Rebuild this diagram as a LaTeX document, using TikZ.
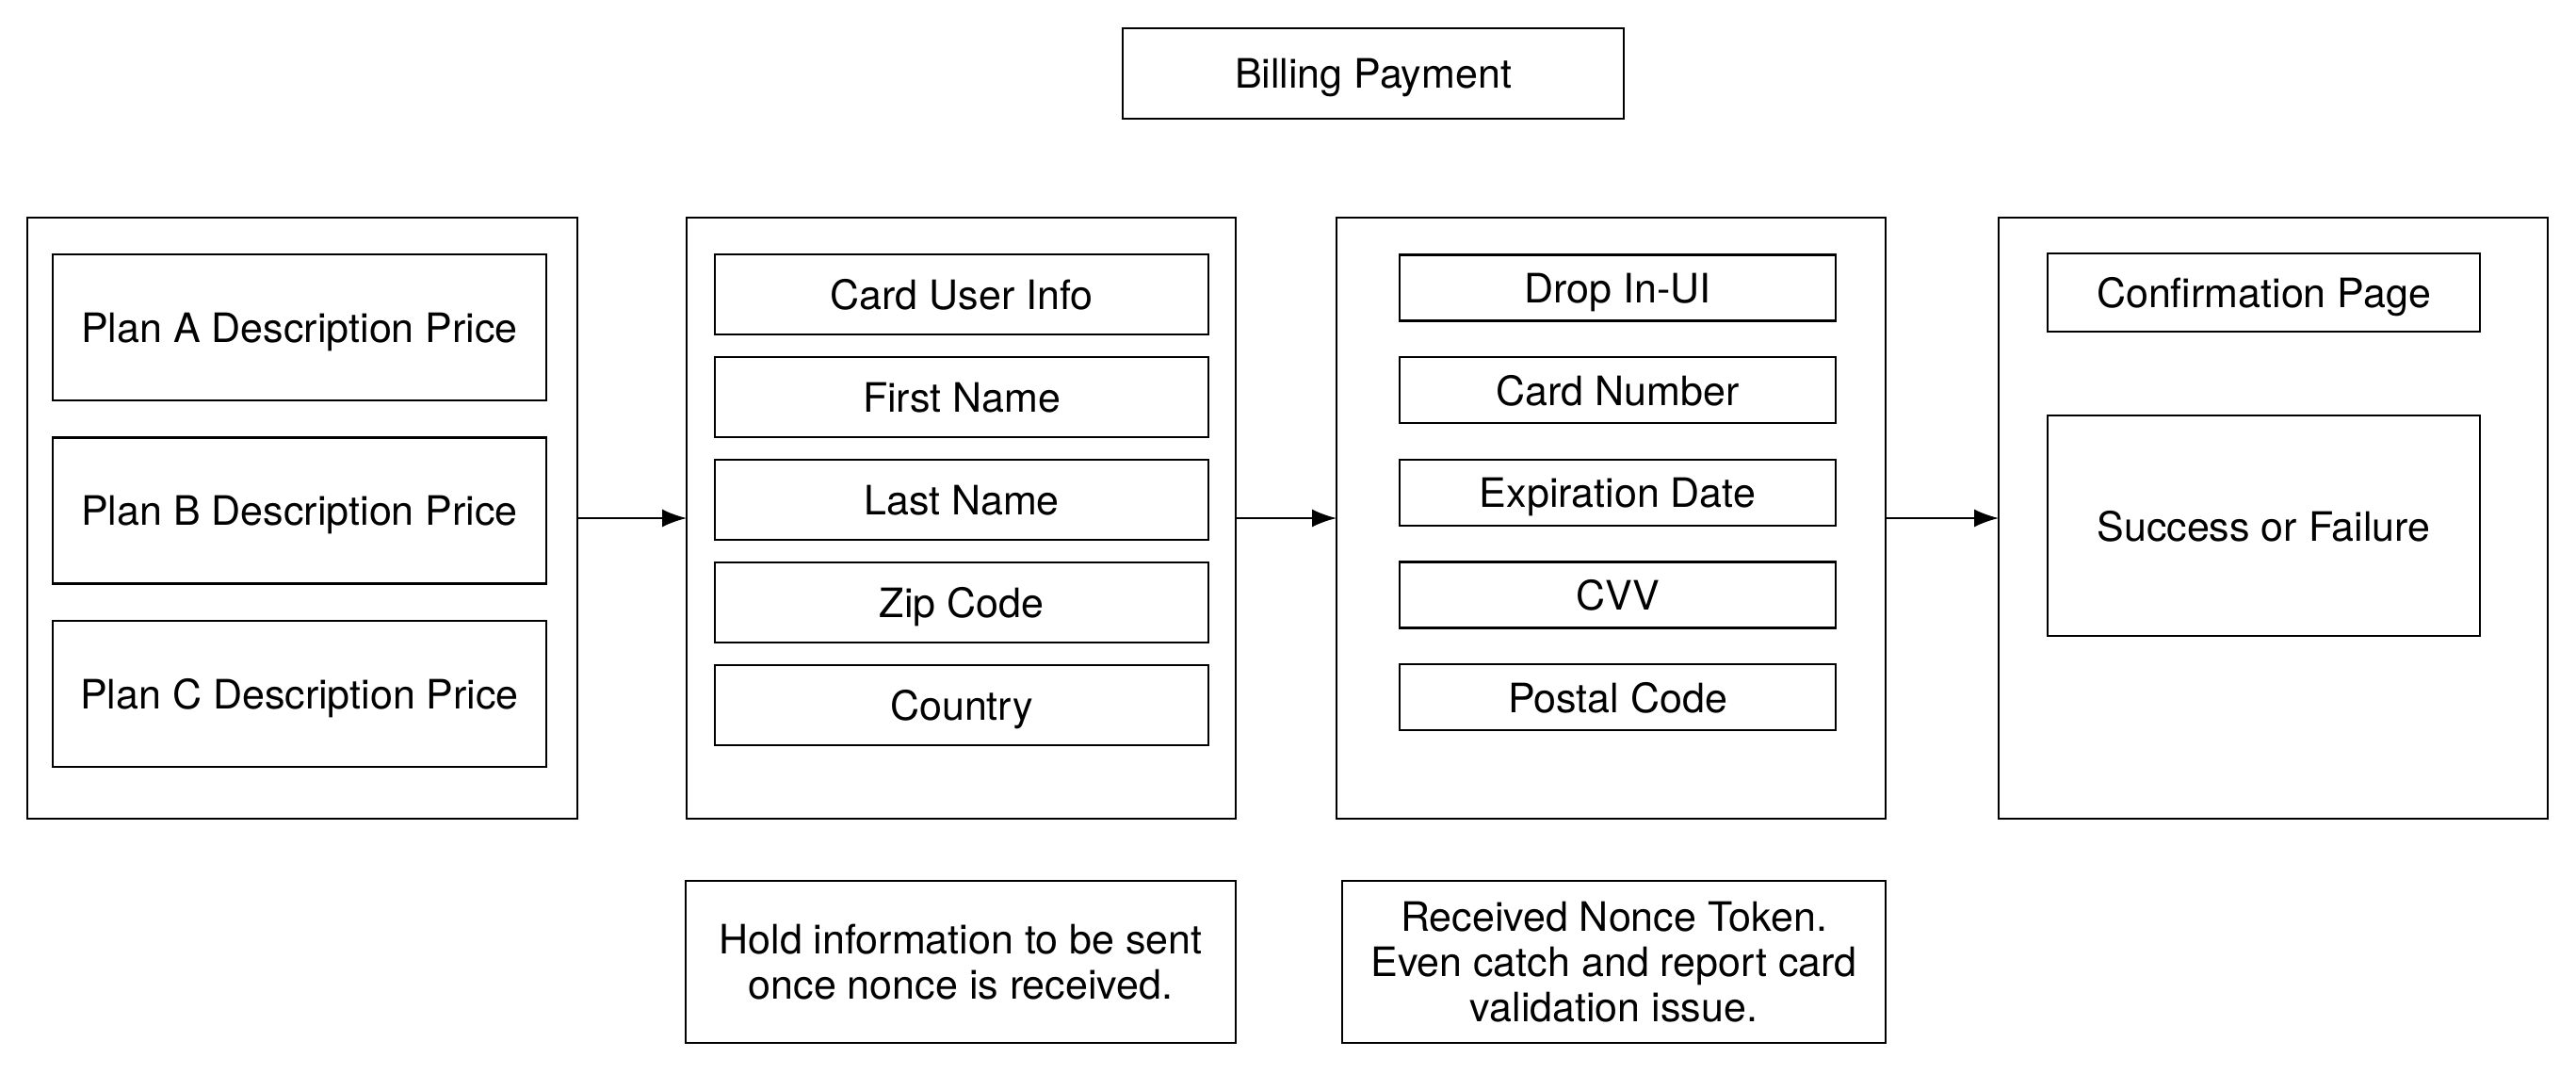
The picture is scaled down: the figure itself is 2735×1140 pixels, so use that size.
\documentclass[tikz,border=0pt]{standalone}
\usepackage{fontspec}
\setmainfont{TeX Gyre Heros}
\usetikzlibrary{arrows.meta}
\begin{document}
\begin{tikzpicture}[x=1pt,y=-1pt,
  box/.style={draw=black, line width=2.6pt, inner sep=0pt, outer sep=0pt, align=center,
    text depth=0pt, font=\fontsize{43}{48}\selectfont},
  link/.style={line width=2pt, -{Latex[length=26pt,width=19pt]}}]
\useasboundingbox (0,0) rectangle (2735,1140);
\fill[white] (0,0) rectangle (2735,1140);
% title
\node[box, minimum width=532pt, minimum height=96pt] (title) at (1458,78) {Billing Payment};
% column 1
\node[box, minimum width=584pt, minimum height=638pt] (c1) at (321,550) {};
\node[box, minimum width=524pt, minimum height=155pt] (pa) at (318,347.5) {Plan A Description Price};
\node[box, minimum width=524pt, minimum height=155pt] (pb) at (318,542) {Plan B Description Price};
\node[box, minimum width=524pt, minimum height=155pt] (pc) at (318,736.5) {Plan C Description Price};
% column 2
\node[box, minimum width=583pt, minimum height=638pt] (c2) at (1020.5,550) {};
\node[box, minimum width=524pt, minimum height=85pt] (cu) at (1021,312.5) {Card User Info};
\node[box, minimum width=524pt, minimum height=85pt] (fn) at (1021,421.5) {First Name};
\node[box, minimum width=524pt, minimum height=85pt] (ln) at (1021,530.5) {Last Name};
\node[box, minimum width=524pt, minimum height=85pt] (zc) at (1021,639.5) {Zip Code};
\node[box, minimum width=524pt, minimum height=85pt] (co) at (1021,748.5) {Country};
% column 3
\node[box, minimum width=583pt, minimum height=638pt] (c3) at (1710.5,550) {};
\node[box, minimum width=463pt, minimum height=70pt] (di) at (1717.5,305.5) {Drop In-UI};
\node[box, minimum width=463pt, minimum height=70pt] (cn) at (1717.5,414) {Card Number};
\node[box, minimum width=463pt, minimum height=70pt] (ed) at (1717.5,523) {Expiration Date};
\node[box, minimum width=463pt, minimum height=70pt] (cv) at (1717.5,631.5) {CVV};
\node[box, minimum width=463pt, minimum height=70pt] (pc2) at (1717.5,740) {Postal Code};
% column 4
\node[box, minimum width=583pt, minimum height=638pt] (c4) at (2413.5,550) {};
\node[box, minimum width=459pt, minimum height=83pt] (cp) at (2403.5,310.5) {Confirmation Page};
\node[box, minimum width=459pt, minimum height=234pt] (sf) at (2403.5,558) {Success or Failure};
% notes
\node[box, minimum width=584pt, minimum height=172pt] (hold) at (1020,1021) {Hold information to be sent\\once nonce is received.};
\node[box, minimum width=577pt, minimum height=172pt] (recv) at (1713.5,1021) {Received Nonce Token.\\Even catch and report card\\validation issue.};
% arrows
\draw[link] (c1.east) -- (c2.west);
\draw[link] (c2.east) -- (c3.west);
\draw[link] (c3.east) -- (c4.west);
\end{tikzpicture}
\end{document}
